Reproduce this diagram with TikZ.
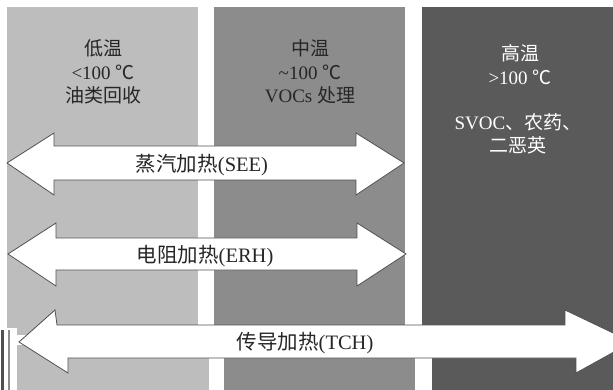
\documentclass[tikz,border=0pt]{standalone}
\usepackage{fontspec}
\setmainfont{Liberation Serif}
\newfontfamily\cjk{Noto Sans CJK SC}
\definecolor{lightcol}{HTML}{BDBDBD}
\definecolor{midcol}{HTML}{8C8C8C}
\definecolor{darkcol}{HTML}{5A5A5A}
\definecolor{edgecol}{HTML}{505050}
\definecolor{inkcol}{HTML}{262626}
\begin{document}
\begin{tikzpicture}[x=1pt,y=-1pt,
  bigarrow/.style={fill=white,draw=edgecol,line width=0.8pt,line join=miter},
  coltext/.style={align=center,text=inkcol,font=\fontsize{19}{23.5}\selectfont},
  whitetext/.style={align=center,text=white,font=\fontsize{19}{23.5}\selectfont},
  arrowlabel/.style={text=inkcol,font=\fontsize{20.5}{22}\selectfont,inner sep=0pt}]
\useasboundingbox (0,0) rectangle (613,390);
\fill[white] (0,0) rectangle (613,390);
% upper columns
\fill[lightcol] (7,7) rectangle (198,335);
\fill[midcol] (214,7) rectangle (405,335);
\fill[darkcol] (422,7) rectangle (613,335);
% lower (shifted) columns
\fill[lightcol] (17,345) rectangle (209,390);
\fill[midcol] (224,345) rectangle (415,390);
\fill[darkcol] (432,345) rectangle (613,390);
% left edge strips
\fill[white] (0,328) rectangle (17,390);
\fill[edgecol] (1,330) rectangle (3.5,390);
\fill[midcol] (8,330) rectangle (10,390);
% column texts
\node[coltext] (low) at (103,72) {{\cjk 低温}\\<100 {\cjk ℃}\\{\cjk 油类回收}};
\node[coltext] (mid) at (310,72) {{\cjk 中温}\\\textasciitilde100 {\cjk ℃}\\VOCs {\cjk 处理}};
\node[whitetext] (high) at (520,64.5) {{\cjk 高温}\\>100 {\cjk ℃}};
\node[whitetext] (highb) at (518,134) {SVOC{\cjk 、农药、}\\{\cjk 二恶英}};
% SEE arrow
\draw[bigarrow] (7,163) -- (54,133) -- (54,146) -- (356,146) -- (356,133) -- (404,163)
  -- (356,195) -- (356,180) -- (54,180) -- (54,195) -- cycle;
\node[arrowlabel] (see) at (202,165) {{\cjk 蒸汽加热}(SEE)};
% ERH arrow
\draw[bigarrow] (8,254) -- (56,223) -- (56,238) -- (357,238) -- (357,223) -- (406,254)
  -- (357,286) -- (357,270) -- (56,270) -- (56,286) -- cycle;
\node[arrowlabel] (erh) at (205,256) {{\cjk 电阻加热}(ERH)};
% TCH arrow (clipped at right edge)
\begin{scope}
\clip (0,0) rectangle (613,390);
\draw[bigarrow] (19,342) -- (55,310) -- (57,325) -- (565,325) -- (565,310) -- (632,342)
  -- (576,373) -- (576,358) -- (68,358) -- (68,373) -- cycle;
\end{scope}
\node[arrowlabel] (tch) at (305,343) {{\cjk 传导加热}(TCH)};
\end{tikzpicture}
\end{document}
